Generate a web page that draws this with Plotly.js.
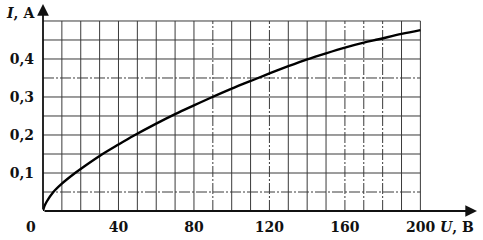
<!DOCTYPE html>
<html>
<head>
<meta charset="utf-8">
<script src="https://cdn.plot.ly/plotly-3.0.1.min.js"></script>
<style>html,body{margin:0;padding:0;background:#fff;}#chart{width:483px;height:240px;}</style>
</head>
<body>
<div id="chart"></div>
<script>
// Data (voltage U in V, current I in A)
const voltageU = [0, 0.7, 2, 5.5, 10, 17, 22, 30, 40, 48, 60, 70, 80, 88, 100, 113, 120, 130, 140, 150, 160, 170, 178, 190, 200];
const currentI = [0, 0.012, 0.025, 0.05, 0.072, 0.1, 0.118, 0.145, 0.175, 0.198, 0.23, 0.255, 0.278, 0.296, 0.322, 0.348, 0.362, 0.381, 0.399, 0.415, 0.43, 0.443, 0.452, 0.466, 0.476];
const xTickVals = [40, 80, 120, 160];
const xTickText = ["40", "80", "120", "160"];
const yTickVals = [0.1, 0.2, 0.3, 0.4];
const yTickText = ["0,1", "0,2", "0,3", "0,4"];

const xMax = 200, yMax = 0.5, xStep = 10, yStep = 0.05;
const dashedX = [90, 120, 160, 170, 180];
const dashedY = [0.05, 0.35];
const gridColor = "#3a3a3a";
const dashPat = "11px,2px,2px,2px";

const shapes = [];
for (let i = 1; i <= xMax / xStep; i++) {
  const xv = i * xStep;
  shapes.push({type: "line", xref: "x", yref: "y", x0: xv, x1: xv, y0: 0, y1: yMax,
    line: {color: gridColor, width: 1, dash: dashedX.includes(xv) ? dashPat : "solid"}, layer: "below"});
}
for (let j = 1; j <= Math.round(yMax / yStep); j++) {
  const yv = +(j * yStep).toFixed(2);
  shapes.push({type: "line", xref: "x", yref: "y", x0: 0, x1: xMax, y0: yv, y1: yv,
    line: {color: gridColor, width: 1, dash: dashedY.includes(yv) ? dashPat : "solid"}, layer: "below"});
}

const font = {family: "DejaVu Serif", size: 14, color: "#111", weight: "bold"};
const fontLabel = {family: "DejaVu Serif", size: 14, color: "#111", weight: "bold"};

const annotations = [
  // axis arrows
  {x: 230, y: 0, ax: 0, ay: 0, axref: "x", ayref: "y", xref: "x", yref: "y", text: "", showarrow: true,
   arrowhead: 2, arrowsize: 1.3, arrowwidth: 1.8, arrowcolor: "#111"},
  {x: 0, y: 0.5447, ax: 0, ay: 0, axref: "x", ayref: "y", xref: "x", yref: "y", text: "", showarrow: true,
   arrowhead: 2, arrowsize: 1.3, arrowwidth: 1.8, arrowcolor: "#111"},
  {x: 191.2, y: 0, xref: "x", yref: "y", xanchor: "left", yanchor: "middle", yshift: -16, showarrow: false,
   text: "200 <i>U</i>, В", font: fontLabel},
  {x: -0.028, y: 0, xref: "paper", yref: "paper", xanchor: "center", yanchor: "middle", yshift: -16, showarrow: false,
   text: "0", font: font},
  {x: -0.051, y: 0.957, xref: "paper", yref: "paper", xanchor: "center", yanchor: "middle", showarrow: false,
   text: "<i>I</i>, А", font: fontLabel}
];

const trace = {
  x: voltageU, y: currentI, type: "scatter", mode: "lines",
  line: {color: "#000", width: 2.4, shape: "spline", smoothing: 1},
  hoverinfo: "none", cliponaxis: false
};

const layout = {
  width: 483, height: 240,
  margin: {l: 43, r: 6, t: 4, b: 29},
  paper_bgcolor: "#fff", plot_bgcolor: "#fff",
  showlegend: false,
  font: font,
  xaxis: {range: [0, 230], showgrid: false, zeroline: false, showline: false,
    tickmode: "array", tickvals: xTickVals, ticktext: xTickText, ticks: "", ticklabelstandoff: 6,
    tickfont: font, fixedrange: true},
  yaxis: {range: [0, 0.5447], showgrid: false, zeroline: false, showline: false,
    tickmode: "array", tickvals: yTickVals, ticktext: yTickText, ticks: "", ticklabelstandoff: 8,
    tickfont: font, fixedrange: true},
  shapes: shapes,
  annotations: annotations
};

Plotly.newPlot("chart", [trace], layout, {staticPlot: true, displayModeBar: false});
</script>
</body>
</html>
